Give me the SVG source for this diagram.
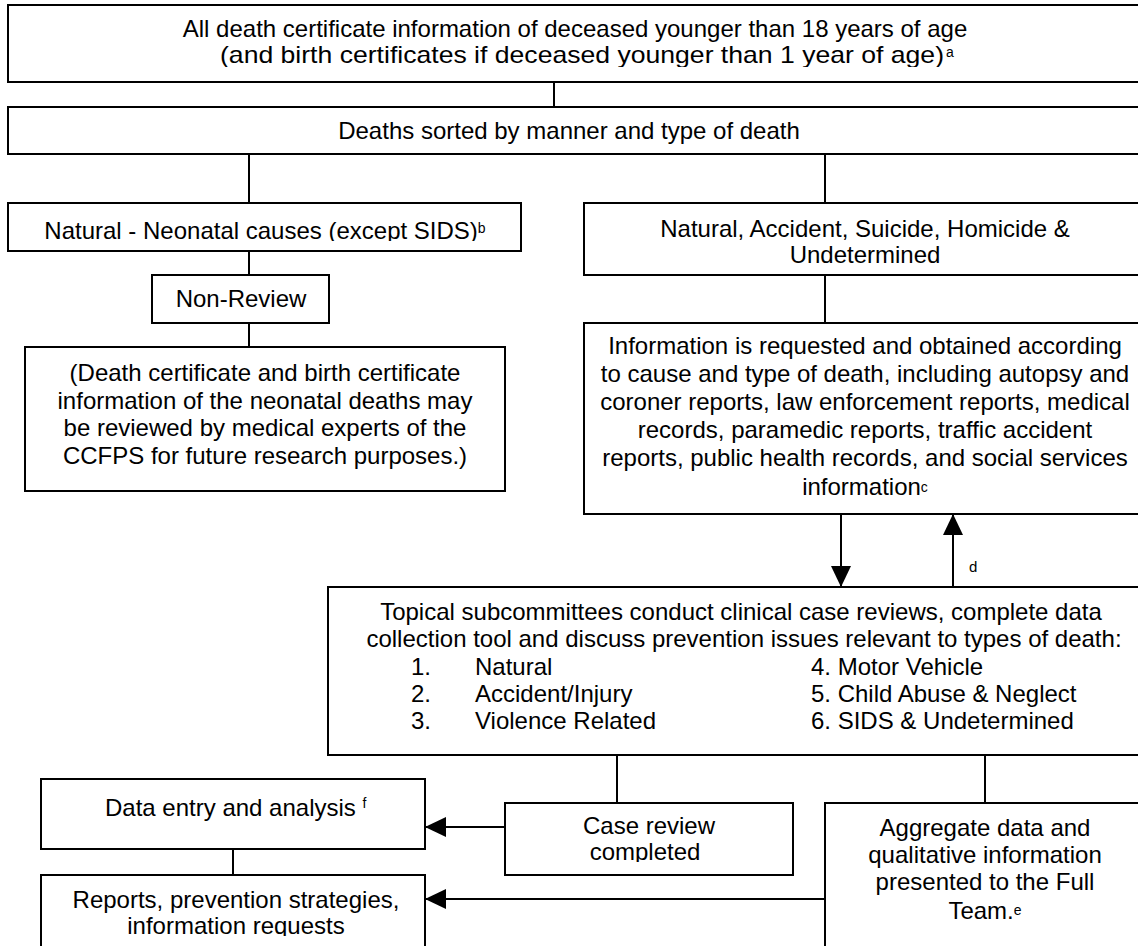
<svg xmlns="http://www.w3.org/2000/svg" width="1138" height="946" viewBox="0 0 1138 946">
<style>
  .box { fill: #fff; stroke: #000; stroke-width: 2; }
  .conn { fill: none; stroke: #000; stroke-width: 2; }
  .t { font-family: "Liberation Sans", Arial, sans-serif; font-size: 24px; fill: #000; }
  .c { text-anchor: middle; }
  .sup { font-size: 14px; }
  .lbl { font-family: "Liberation Sans", Arial, sans-serif; font-size: 15px; fill: #000; }
</style>
<defs>
  <marker id="arr" viewBox="0 0 21 20" markerWidth="21" markerHeight="20" refX="21" refY="10" orient="auto" markerUnits="userSpaceOnUse">
    <path d="M0,0 L21,10 L0,20 z" fill="#000"/>
  </marker>
  <clipPath id="clipTop2"><rect x="8" y="40" width="1140" height="27"/></clipPath>
  <clipPath id="clipNat"><rect x="8" y="203" width="513" height="38"/></clipPath>
  <clipPath id="clipCase"><rect x="505" y="803" width="288" height="59"/></clipPath>
  <clipPath id="clipRep"><rect x="41" y="875" width="384" height="61"/></clipPath>
</defs>
<rect width="1138" height="946" fill="#fff"/>

<g id="connectors">
  <line class="conn" x1="554" y1="82" x2="554" y2="107"/>
  <line class="conn" x1="249" y1="154" x2="249" y2="203"/>
  <line class="conn" x1="825" y1="154" x2="825" y2="203"/>
  <line class="conn" x1="249" y1="251" x2="249" y2="275"/>
  <line class="conn" x1="249" y1="323" x2="249" y2="347"/>
  <line class="conn" x1="825" y1="275" x2="825" y2="323"/>
  <line class="conn" x1="841" y1="514" x2="841" y2="587" marker-end="url(#arr)"/>
  <line class="conn" x1="953" y1="587" x2="953" y2="514" marker-end="url(#arr)"/>
  <text class="lbl" x="969" y="572">d</text>
  <line class="conn" x1="617" y1="755" x2="617" y2="803"/>
  <line class="conn" x1="985" y1="755" x2="985" y2="803"/>
  <line class="conn" x1="505" y1="827" x2="425" y2="827" marker-end="url(#arr)"/>
  <line class="conn" x1="825" y1="899" x2="425" y2="899" marker-end="url(#arr)"/>
  <line class="conn" x1="233" y1="849" x2="233" y2="875"/>
</g>

<g id="node-all-deaths">
  <rect class="box" x="8" y="5" width="1140" height="77"/>
  <text class="t c" x="575" y="37">All death certificate information of deceased younger than 18 years of age</text>
  <text class="t" x="220" y="63" textLength="724" lengthAdjust="spacingAndGlyphs" clip-path="url(#clipTop2)">(and birth certificates if deceased younger than 1 year of age)</text>
  <text class="t sup" x="946" y="57">a</text>
</g>

<g id="node-sorted">
  <rect class="box" x="8" y="107" width="1140" height="47"/>
  <text class="t c" x="569" y="139">Deaths sorted by manner and type of death</text>
</g>

<g id="node-neonatal">
  <rect class="box" x="8" y="203" width="513" height="48"/>
  <text class="t c" x="265" y="239" clip-path="url(#clipNat)">Natural - Neonatal causes (except SIDS)<tspan class="sup" dy="-6">b</tspan></text>
</g>

<g id="node-nonreview">
  <rect class="box" x="152" y="275" width="177" height="48"/>
  <text class="t c" x="241" y="307">Non-Review</text>
</g>

<g id="node-ccfps">
  <rect class="box" x="25" y="347" width="480" height="144"/>
  <text class="t c" x="265" y="381">(Death certificate and birth certificate</text>
  <text class="t c" x="265" y="409">information of the neonatal deaths may</text>
  <text class="t c" x="265" y="436">be reviewed by medical experts of the</text>
  <text class="t c" x="265" y="464">CCFPS for future research purposes.)</text>
</g>

<g id="node-manners">
  <rect class="box" x="584" y="203" width="561" height="72"/>
  <text class="t c" x="865" y="237">Natural, Accident, Suicide, Homicide &amp;</text>
  <text class="t c" x="865" y="263">Undetermined</text>
</g>

<g id="node-information">
  <rect class="box" x="584" y="323" width="561" height="191"/>
  <text class="t c" x="865" y="354">Information is requested and obtained according</text>
  <text class="t c" x="865" y="382">to cause and type of death, including autopsy and</text>
  <text class="t c" x="865" y="410">coroner reports, law enforcement reports, medical</text>
  <text class="t c" x="865" y="438">records, paramedic reports, traffic accident</text>
  <text class="t c" x="865" y="466">reports, public health records, and social services</text>
  <text class="t c" x="865" y="495">information<tspan class="sup" dy="-3">c</tspan></text>
</g>

<g id="node-subcommittees">
  <rect class="box" x="328" y="587" width="830" height="168"/>
  <text class="t c" x="741" y="620">Topical subcommittees conduct clinical case reviews, complete data</text>
  <text class="t c" x="744" y="647">collection tool and discuss prevention issues relevant to types of death:</text>
  <text class="t" x="411" y="675">1.</text><text class="t" x="475" y="675">Natural</text>
  <text class="t" x="411" y="702">2.</text><text class="t" x="475" y="702">Accident/Injury</text>
  <text class="t" x="411" y="729">3.</text><text class="t" x="475" y="729">Violence Related</text>
  <text class="t" x="811" y="675">4. Motor Vehicle</text>
  <text class="t" x="811" y="702">5. Child Abuse &amp; Neglect</text>
  <text class="t" x="811" y="729">6. SIDS &amp; Undetermined</text>
</g>

<g id="node-data-entry">
  <rect class="box" x="41" y="779" width="384" height="70"/>
  <text class="t" x="105" y="816">Data entry and analysis <tspan class="sup" dy="-8">f</tspan></text>
</g>

<g id="node-case-review">
  <rect class="box" x="505" y="803" width="288" height="72"/>
  <text class="t c" x="649" y="834" clip-path="url(#clipCase)">Case review</text>
  <text class="t c" x="645" y="860" clip-path="url(#clipCase)">completed</text>
</g>

<g id="node-reports">
  <rect class="box" x="41" y="875" width="384" height="100"/>
  <text class="t c" x="236" y="908">Reports, prevention strategies,</text>
  <text class="t c" x="236" y="934" clip-path="url(#clipRep)">information requests</text>
</g>

<g id="node-aggregate">
  <rect class="box" x="825" y="803" width="320" height="160"/>
  <text class="t c" x="985" y="836">Aggregate data and</text>
  <text class="t c" x="985" y="863">qualitative information</text>
  <text class="t c" x="985" y="890">presented to the Full</text>
  <text class="t c" x="985" y="919">Team.<tspan class="sup" dy="-4">e</tspan></text>
</g>
</svg>
